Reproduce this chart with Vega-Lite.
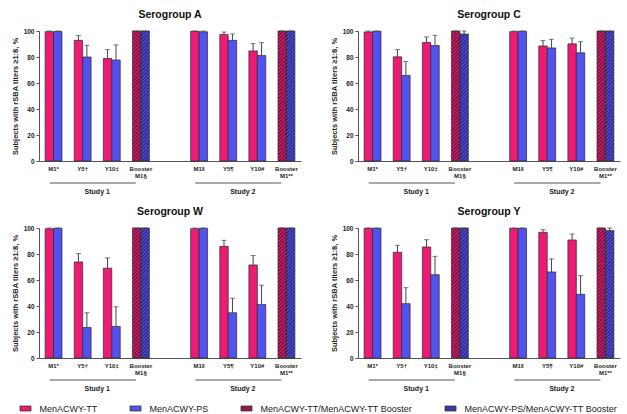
{
  "$schema": "https://vega.github.io/schema/vega-lite/v6.json",
  "background": "white",
  "padding": {"left": 11, "top": 9, "right": 2, "bottom": 2},
  "config": {
    "view": {"stroke": null},
    "font": "Liberation Sans",
    "axisX": {"ticks": false, "labelFontSize": 6, "labelFontWeight": "bold", "labelColor": "#222", "labelPadding": 4, "domainColor": "#555", "labelAngle": 0, "labelOverlap": false, "labelBound": false, "labelLineHeight": 7},
    "axisY": {"tickSize": 3, "labelFontSize": 6.5, "labelFontWeight": "bold", "labelColor": "#222", "labelPadding": 2, "labelOverlap": false, "labelBound": false, "titleFontSize": 7.5, "titleFontWeight": "bold", "titleColor": "#222", "titlePadding": 4, "domainColor": "#555", "tickColor": "#555", "grid": false}
  },
  "data": {"values": [
    {"g":"Serogroup A","s":"M1*","a":"TT","k":"TT","v":99.5,"u":100},
    {"g":"Serogroup A","s":"M1*","a":"PS","k":"PS","v":99.7,"u":100},
    {"g":"Serogroup A","s":"Y5†","a":"TT","k":"TT","v":92.8,"u":96.4},
    {"g":"Serogroup A","s":"Y5†","a":"PS","k":"PS","v":80.0,"u":89.0},
    {"g":"Serogroup A","s":"Y10‡","a":"TT","k":"TT","v":78.8,"u":85.7},
    {"g":"Serogroup A","s":"Y10‡","a":"PS","k":"PS","v":77.7,"u":89.3},
    {"g":"Serogroup A","s":"Booster|M1§","a":"TT","k":"TTb","v":100,"u":100},
    {"g":"Serogroup A","s":"Booster|M1§","a":"PS","k":"PSb","v":100,"u":100},
    {"g":"Serogroup A","s":"M1‖","a":"TT","k":"TT","v":99.8,"u":100},
    {"g":"Serogroup A","s":"M1‖","a":"PS","k":"PS","v":99.4,"u":100},
    {"g":"Serogroup A","s":"Y5¶","a":"TT","k":"TT","v":97.4,"u":99.2},
    {"g":"Serogroup A","s":"Y5¶","a":"PS","k":"PS","v":92.8,"u":97.7},
    {"g":"Serogroup A","s":"Y10#","a":"TT","k":"TT","v":84.7,"u":90.3},
    {"g":"Serogroup A","s":"Y10#","a":"PS","k":"PS","v":81.1,"u":91.0},
    {"g":"Serogroup A","s":"Booster|M1**","a":"TT","k":"TTb","v":100,"u":100},
    {"g":"Serogroup A","s":"Booster|M1**","a":"PS","k":"PSb","v":100,"u":100},

    {"g":"Serogroup C","s":"M1*","a":"TT","k":"TT","v":99.3,"u":100},
    {"g":"Serogroup C","s":"M1*","a":"PS","k":"PS","v":99.8,"u":100},
    {"g":"Serogroup C","s":"Y5†","a":"TT","k":"TT","v":80.1,"u":85.7},
    {"g":"Serogroup C","s":"Y5†","a":"PS","k":"PS","v":65.8,"u":76.5},
    {"g":"Serogroup C","s":"Y10‡","a":"TT","k":"TT","v":91.1,"u":95.4},
    {"g":"Serogroup C","s":"Y10‡","a":"PS","k":"PS","v":88.8,"u":96.7},
    {"g":"Serogroup C","s":"Booster|M1§","a":"TT","k":"TTb","v":100,"u":100},
    {"g":"Serogroup C","s":"Booster|M1§","a":"PS","k":"PSb","v":97.7,"u":100},
    {"g":"Serogroup C","s":"M1‖","a":"TT","k":"TT","v":99.5,"u":100},
    {"g":"Serogroup C","s":"M1‖","a":"PS","k":"PS","v":99.8,"u":100},
    {"g":"Serogroup C","s":"Y5¶","a":"TT","k":"TT","v":88.5,"u":92.6},
    {"g":"Serogroup C","s":"Y5¶","a":"PS","k":"PS","v":87.0,"u":93.6},
    {"g":"Serogroup C","s":"Y10#","a":"TT","k":"TT","v":90.1,"u":94.6},
    {"g":"Serogroup C","s":"Y10#","a":"PS","k":"PS","v":83.2,"u":91.8},
    {"g":"Serogroup C","s":"Booster|M1**","a":"TT","k":"TTb","v":100,"u":100},
    {"g":"Serogroup C","s":"Booster|M1**","a":"PS","k":"PSb","v":100,"u":100},

    {"g":"Serogroup W","s":"M1*","a":"TT","k":"TT","v":99.4,"u":100},
    {"g":"Serogroup W","s":"M1*","a":"PS","k":"PS","v":99.8,"u":100},
    {"g":"Serogroup W","s":"Y5†","a":"TT","k":"TT","v":73.9,"u":80.3},
    {"g":"Serogroup W","s":"Y5†","a":"PS","k":"PS","v":23.5,"u":34.8},
    {"g":"Serogroup W","s":"Y10‡","a":"TT","k":"TT","v":69.1,"u":77.0},
    {"g":"Serogroup W","s":"Y10‡","a":"PS","k":"PS","v":24.3,"u":39.4},
    {"g":"Serogroup W","s":"Booster|M1§","a":"TT","k":"TTb","v":100,"u":100},
    {"g":"Serogroup W","s":"Booster|M1§","a":"PS","k":"PSb","v":100,"u":100},
    {"g":"Serogroup W","s":"M1‖","a":"TT","k":"TT","v":99.5,"u":100},
    {"g":"Serogroup W","s":"M1‖","a":"PS","k":"PS","v":99.8,"u":100},
    {"g":"Serogroup W","s":"Y5¶","a":"TT","k":"TT","v":85.9,"u":90.5},
    {"g":"Serogroup W","s":"Y5¶","a":"PS","k":"PS","v":34.8,"u":46.0},
    {"g":"Serogroup W","s":"Y10#","a":"TT","k":"TT","v":71.6,"u":78.8},
    {"g":"Serogroup W","s":"Y10#","a":"PS","k":"PS","v":41.2,"u":56.0},
    {"g":"Serogroup W","s":"Booster|M1**","a":"TT","k":"TTb","v":100,"u":100},
    {"g":"Serogroup W","s":"Booster|M1**","a":"PS","k":"PSb","v":100,"u":100},

    {"g":"Serogroup Y","s":"M1*","a":"TT","k":"TT","v":99.8,"u":100},
    {"g":"Serogroup Y","s":"M1*","a":"PS","k":"PS","v":99.8,"u":100},
    {"g":"Serogroup Y","s":"Y5†","a":"TT","k":"TT","v":81.3,"u":86.7},
    {"g":"Serogroup Y","s":"Y5†","a":"PS","k":"PS","v":41.8,"u":54.1},
    {"g":"Serogroup Y","s":"Y10‡","a":"TT","k":"TT","v":85.4,"u":91.0},
    {"g":"Serogroup Y","s":"Y10‡","a":"PS","k":"PS","v":64.1,"u":78.2},
    {"g":"Serogroup Y","s":"Booster|M1§","a":"TT","k":"TTb","v":100,"u":100},
    {"g":"Serogroup Y","s":"Booster|M1§","a":"PS","k":"PSb","v":100,"u":100},
    {"g":"Serogroup Y","s":"M1‖","a":"TT","k":"TT","v":99.8,"u":100},
    {"g":"Serogroup Y","s":"M1‖","a":"PS","k":"PS","v":99.8,"u":100},
    {"g":"Serogroup Y","s":"Y5¶","a":"TT","k":"TT","v":96.7,"u":98.7},
    {"g":"Serogroup Y","s":"Y5¶","a":"PS","k":"PS","v":66.2,"u":76.2},
    {"g":"Serogroup Y","s":"Y10#","a":"TT","k":"TT","v":90.8,"u":95.4},
    {"g":"Serogroup Y","s":"Y10#","a":"PS","k":"PS","v":49.0,"u":63.3},
    {"g":"Serogroup Y","s":"Booster|M1**","a":"TT","k":"TTb","v":100,"u":100},
    {"g":"Serogroup Y","s":"Booster|M1**","a":"PS","k":"PSb","v":98.0,"u":100},

    {"g":"Serogroup A","st":"Study 1","x1":"M1*","x2":"Booster|M1§","xl":"Y5†"},
    {"g":"Serogroup A","st":"Study 2","x1":"M1‖","x2":"Booster|M1**","xl":"Y5¶"},
    {"g":"Serogroup C","st":"Study 1","x1":"M1*","x2":"Booster|M1§","xl":"Y5†"},
    {"g":"Serogroup C","st":"Study 2","x1":"M1‖","x2":"Booster|M1**","xl":"Y5¶"},
    {"g":"Serogroup W","st":"Study 1","x1":"M1*","x2":"Booster|M1§","xl":"Y5†"},
    {"g":"Serogroup W","st":"Study 2","x1":"M1‖","x2":"Booster|M1**","xl":"Y5¶"},
    {"g":"Serogroup Y","st":"Study 1","x1":"M1*","x2":"Booster|M1§","xl":"Y5†"},
    {"g":"Serogroup Y","st":"Study 2","x1":"M1‖","x2":"Booster|M1**","xl":"Y5¶"}
  ]},
  "columns": 2,
  "spacing": {"row": 11, "column": 29},
  "facet": {"field": "g", "type": "nominal", "header": {"title": null, "labelFontSize": 10.5, "labelFontWeight": "bold", "labelColor": "#111", "labelPadding": 8, "labelFont": "Liberation Sans"}},
  "resolve": {"axis": {"x": "independent", "y": "independent"}},
  "spec": {
    "width": 262,
    "height": 130,
    "layer": [
      {
        "transform": [{"filter": "isValid(datum.v)"}],
        "mark": {"type": "bar", "stroke": "#2a2a2a", "strokeWidth": 0.7},
        "encoding": {
          "x": {"field": "s", "type": "nominal", "title": null, "scale": {"domain": ["M1*","Y5†","Y10‡","Booster|M1§","gap","M1‖","Y5¶","Y10#","Booster|M1**"], "paddingInner": 0.42, "paddingOuter": 0.21}, "axis": {"labelExpr": "datum.label == 'gap' ? '' : split(datum.label, '|')"}},
          "xOffset": {"field": "a", "type": "nominal", "scale": {"domain": ["TT","PS"]}},
          "y": {"field": "v", "type": "quantitative", "scale": {"domain": [0, 100], "nice": false}, "axis": {"values": [0,20,40,60,80,100], "labelOverlap": false, "tickCount": 6}, "title": "Subjects with rSBA titers ≥1:8, %"},
          "fill": {
            "field": "k", "type": "nominal",
            "scale": {"domain": ["TT","PS","TTb","PSb"], "range": ["#EC1C74","#5252EE","#9a1652","#3a3aa4"]},
            "legend": {"orient": "none", "legendX": -19.5, "legendY": 371.5, "padding": 0, "direction": "horizontal", "title": null, "symbolType": "M-1,-0.45H1V0.45H-1Z", "symbolSize": 121, "symbolStrokeColor": "#333", "symbolStrokeWidth": 0.8, "labelFontSize": 9, "labelFont": "Liberation Sans", "labelColor": "#222", "labelOffset": 8, "columnPadding": 30, "labelLimit": 300,
              "labelExpr": "{'TT':'MenACWY-TT','PS':'MenACWY-PS','TTb':'MenACWY-TT/MenACWY-TT Booster','PSb':'MenACWY-PS/MenACWY-TT Booster'}[datum.label]"},
            "condition": [
              {"test": "datum.k == 'TTb'", "value": {"gradient": "linear", "x1": 0, "y1": 0, "x2": 0.0695, "y2": 1.07, "stops": [
                {"offset":0,"color":"#EC1C74"},{"offset":0.0125,"color":"#5a1236"},{"offset":0.025,"color":"#EC1C74"},{"offset":0.0375,"color":"#5a1236"},{"offset":0.05,"color":"#EC1C74"},{"offset":0.0625,"color":"#5a1236"},{"offset":0.075,"color":"#EC1C74"},{"offset":0.0875,"color":"#5a1236"},
                {"offset":0.1,"color":"#EC1C74"},{"offset":0.1125,"color":"#5a1236"},{"offset":0.125,"color":"#EC1C74"},{"offset":0.1375,"color":"#5a1236"},{"offset":0.15,"color":"#EC1C74"},{"offset":0.1625,"color":"#5a1236"},{"offset":0.175,"color":"#EC1C74"},{"offset":0.1875,"color":"#5a1236"},
                {"offset":0.2,"color":"#EC1C74"},{"offset":0.2125,"color":"#5a1236"},{"offset":0.225,"color":"#EC1C74"},{"offset":0.2375,"color":"#5a1236"},{"offset":0.25,"color":"#EC1C74"},{"offset":0.2625,"color":"#5a1236"},{"offset":0.275,"color":"#EC1C74"},{"offset":0.2875,"color":"#5a1236"},
                {"offset":0.3,"color":"#EC1C74"},{"offset":0.3125,"color":"#5a1236"},{"offset":0.325,"color":"#EC1C74"},{"offset":0.3375,"color":"#5a1236"},{"offset":0.35,"color":"#EC1C74"},{"offset":0.3625,"color":"#5a1236"},{"offset":0.375,"color":"#EC1C74"},{"offset":0.3875,"color":"#5a1236"},
                {"offset":0.4,"color":"#EC1C74"},{"offset":0.4125,"color":"#5a1236"},{"offset":0.425,"color":"#EC1C74"},{"offset":0.4375,"color":"#5a1236"},{"offset":0.45,"color":"#EC1C74"},{"offset":0.4625,"color":"#5a1236"},{"offset":0.475,"color":"#EC1C74"},{"offset":0.4875,"color":"#5a1236"},
                {"offset":0.5,"color":"#EC1C74"},{"offset":0.5125,"color":"#5a1236"},{"offset":0.525,"color":"#EC1C74"},{"offset":0.5375,"color":"#5a1236"},{"offset":0.55,"color":"#EC1C74"},{"offset":0.5625,"color":"#5a1236"},{"offset":0.575,"color":"#EC1C74"},{"offset":0.5875,"color":"#5a1236"},
                {"offset":0.6,"color":"#EC1C74"},{"offset":0.6125,"color":"#5a1236"},{"offset":0.625,"color":"#EC1C74"},{"offset":0.6375,"color":"#5a1236"},{"offset":0.65,"color":"#EC1C74"},{"offset":0.6625,"color":"#5a1236"},{"offset":0.675,"color":"#EC1C74"},{"offset":0.6875,"color":"#5a1236"},
                {"offset":0.7,"color":"#EC1C74"},{"offset":0.7125,"color":"#5a1236"},{"offset":0.725,"color":"#EC1C74"},{"offset":0.7375,"color":"#5a1236"},{"offset":0.75,"color":"#EC1C74"},{"offset":0.7625,"color":"#5a1236"},{"offset":0.775,"color":"#EC1C74"},{"offset":0.7875,"color":"#5a1236"},
                {"offset":0.8,"color":"#EC1C74"},{"offset":0.8125,"color":"#5a1236"},{"offset":0.825,"color":"#EC1C74"},{"offset":0.8375,"color":"#5a1236"},{"offset":0.85,"color":"#EC1C74"},{"offset":0.8625,"color":"#5a1236"},{"offset":0.875,"color":"#EC1C74"},{"offset":0.8875,"color":"#5a1236"},
                {"offset":0.9,"color":"#EC1C74"},{"offset":0.9125,"color":"#5a1236"},{"offset":0.925,"color":"#EC1C74"},{"offset":0.9375,"color":"#5a1236"},{"offset":0.95,"color":"#EC1C74"},{"offset":0.9625,"color":"#5a1236"},{"offset":0.975,"color":"#EC1C74"},{"offset":0.9875,"color":"#5a1236"},
                {"offset":1,"color":"#EC1C74"}]}},
              {"test": "datum.k == 'PSb'", "value": {"gradient": "linear", "x1": 0, "y1": 0, "x2": 0.0695, "y2": 1.07, "stops": [
                {"offset":0,"color":"#5252EE"},{"offset":0.0125,"color":"#26266c"},{"offset":0.025,"color":"#5252EE"},{"offset":0.0375,"color":"#26266c"},{"offset":0.05,"color":"#5252EE"},{"offset":0.0625,"color":"#26266c"},{"offset":0.075,"color":"#5252EE"},{"offset":0.0875,"color":"#26266c"},
                {"offset":0.1,"color":"#5252EE"},{"offset":0.1125,"color":"#26266c"},{"offset":0.125,"color":"#5252EE"},{"offset":0.1375,"color":"#26266c"},{"offset":0.15,"color":"#5252EE"},{"offset":0.1625,"color":"#26266c"},{"offset":0.175,"color":"#5252EE"},{"offset":0.1875,"color":"#26266c"},
                {"offset":0.2,"color":"#5252EE"},{"offset":0.2125,"color":"#26266c"},{"offset":0.225,"color":"#5252EE"},{"offset":0.2375,"color":"#26266c"},{"offset":0.25,"color":"#5252EE"},{"offset":0.2625,"color":"#26266c"},{"offset":0.275,"color":"#5252EE"},{"offset":0.2875,"color":"#26266c"},
                {"offset":0.3,"color":"#5252EE"},{"offset":0.3125,"color":"#26266c"},{"offset":0.325,"color":"#5252EE"},{"offset":0.3375,"color":"#26266c"},{"offset":0.35,"color":"#5252EE"},{"offset":0.3625,"color":"#26266c"},{"offset":0.375,"color":"#5252EE"},{"offset":0.3875,"color":"#26266c"},
                {"offset":0.4,"color":"#5252EE"},{"offset":0.4125,"color":"#26266c"},{"offset":0.425,"color":"#5252EE"},{"offset":0.4375,"color":"#26266c"},{"offset":0.45,"color":"#5252EE"},{"offset":0.4625,"color":"#26266c"},{"offset":0.475,"color":"#5252EE"},{"offset":0.4875,"color":"#26266c"},
                {"offset":0.5,"color":"#5252EE"},{"offset":0.5125,"color":"#26266c"},{"offset":0.525,"color":"#5252EE"},{"offset":0.5375,"color":"#26266c"},{"offset":0.55,"color":"#5252EE"},{"offset":0.5625,"color":"#26266c"},{"offset":0.575,"color":"#5252EE"},{"offset":0.5875,"color":"#26266c"},
                {"offset":0.6,"color":"#5252EE"},{"offset":0.6125,"color":"#26266c"},{"offset":0.625,"color":"#5252EE"},{"offset":0.6375,"color":"#26266c"},{"offset":0.65,"color":"#5252EE"},{"offset":0.6625,"color":"#26266c"},{"offset":0.675,"color":"#5252EE"},{"offset":0.6875,"color":"#26266c"},
                {"offset":0.7,"color":"#5252EE"},{"offset":0.7125,"color":"#26266c"},{"offset":0.725,"color":"#5252EE"},{"offset":0.7375,"color":"#26266c"},{"offset":0.75,"color":"#5252EE"},{"offset":0.7625,"color":"#26266c"},{"offset":0.775,"color":"#5252EE"},{"offset":0.7875,"color":"#26266c"},
                {"offset":0.8,"color":"#5252EE"},{"offset":0.8125,"color":"#26266c"},{"offset":0.825,"color":"#5252EE"},{"offset":0.8375,"color":"#26266c"},{"offset":0.85,"color":"#5252EE"},{"offset":0.8625,"color":"#26266c"},{"offset":0.875,"color":"#5252EE"},{"offset":0.8875,"color":"#26266c"},
                {"offset":0.9,"color":"#5252EE"},{"offset":0.9125,"color":"#26266c"},{"offset":0.925,"color":"#5252EE"},{"offset":0.9375,"color":"#26266c"},{"offset":0.95,"color":"#5252EE"},{"offset":0.9625,"color":"#26266c"},{"offset":0.975,"color":"#5252EE"},{"offset":0.9875,"color":"#26266c"},
                {"offset":1,"color":"#5252EE"}]}}
            ]
          }
        }
      },
      {
        "transform": [{"filter": "isValid(datum.v)"}],
        "mark": {"type": "rule", "color": "#444", "strokeWidth": 1},
        "encoding": {
          "x": {"field": "s", "type": "nominal", "title": null, "scale": {"domain": ["M1*","Y5†","Y10‡","Booster|M1§","gap","M1‖","Y5¶","Y10#","Booster|M1**"], "paddingInner": 0.42, "paddingOuter": 0.21}},
          "xOffset": {"field": "a", "type": "nominal", "scale": {"domain": ["TT","PS"]}},
          "y": {"field": "v", "type": "quantitative"},
          "y2": {"field": "u"}
        }
      },
      {
        "transform": [{"filter": "isValid(datum.v)"}],
        "mark": {"type": "tick", "color": "#444", "thickness": 1, "size": 5, "orient": "horizontal"},
        "encoding": {
          "x": {"field": "s", "type": "nominal", "title": null, "scale": {"domain": ["M1*","Y5†","Y10‡","Booster|M1§","gap","M1‖","Y5¶","Y10#","Booster|M1**"], "paddingInner": 0.42, "paddingOuter": 0.21}},
          "xOffset": {"field": "a", "type": "nominal", "scale": {"domain": ["TT","PS"]}},
          "y": {"field": "u", "type": "quantitative"}
        }
      },
      {
        "transform": [{"filter": "isValid(datum.st)"}],
        "mark": {"type": "rule", "color": "#555", "strokeWidth": 1, "yOffset": 22},
        "encoding": {
          "x": {"field": "x1", "type": "nominal", "title": null, "bandPosition": 0.27, "scale": {"domain": ["M1*","Y5†","Y10‡","Booster|M1§","gap","M1‖","Y5¶","Y10#","Booster|M1**"], "paddingInner": 0.42, "paddingOuter": 0.21}},
          "x2": {"field": "x2", "bandPosition": 0.2},
          "y": {"datum": 0}
        }
      },
      {
        "transform": [{"filter": "isValid(datum.st)"}],
        "mark": {"type": "text", "color": "#222", "fontSize": 7, "fontWeight": "bold", "yOffset": 31, "baseline": "middle"},
        "encoding": {
          "x": {"field": "xl", "type": "nominal", "title": null, "bandPosition": 1.362, "scale": {"domain": ["M1*","Y5†","Y10‡","Booster|M1§","gap","M1‖","Y5¶","Y10#","Booster|M1**"], "paddingInner": 0.42, "paddingOuter": 0.21}},
          "y": {"datum": 0},
          "text": {"field": "st"}
        }
      }
    ]
  }
}
